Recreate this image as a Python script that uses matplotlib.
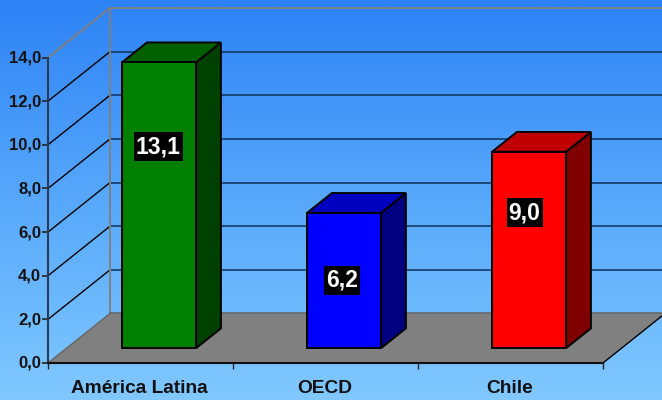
import numpy as np
import matplotlib
matplotlib.use("Agg")
import matplotlib.pyplot as plt
from matplotlib.patches import Polygon, Rectangle
from matplotlib.transforms import ScaledTranslation

categories = ["América Latina", "OECD", "Chile"]
values = [13.1, 6.2, 9.0]
value_labels = ["13,1", "6,2", "9,0"]
y_ticks = [0, 2, 4, 6, 8, 10, 12, 14]
y_tick_labels = ["0,0", "2,0", "4,0", "6,0", "8,0", "10,0", "12,0", "14,0"]

front_colors = ["#008000", "#0000ff", "#ff0000"]
top_colors = ["#006000", "#0000c0", "#c00000"]
side_colors = ["#004000", "#000080", "#800000"]

FIG_W, FIG_H = 662, 400

# oblique depth of the whole plot box, in data units
DEPTH_X = 62 / 185
DEPTH_Y = 49.5 / 21.82
BAR_WIDTH = 0.4
BAR_NEAR, BAR_FAR = 0.3, 0.7


def project(x, y, d):
    return (x + d * DEPTH_X, y + d * DEPTH_Y)


def box_poly(ax, corners, color, z, edge="black", lw=1.4):
    pts = [project(*c) for c in corners]
    ax.add_patch(Polygon(pts, closed=True, facecolor=color, edgecolor=edge,
                         linewidth=lw, joinstyle="miter", clip_on=False, zorder=z))


def main():
    plt.rcParams["font.family"] = ["Liberation Sans", "DejaVu Sans"]
    fig = plt.figure(figsize=(FIG_W / 100, FIG_H / 100), dpi=100)

    # background gradient
    bg = fig.add_axes([0, 0, 1, 1], zorder=0)
    grad = np.linspace(0, 1, 256).reshape(-1, 1)
    cmap = matplotlib.colors.LinearSegmentedColormap.from_list(
        "sky", ["#2d82f5", "#57a8fb", "#80c8ff"])
    bg.imshow(grad, aspect="auto", cmap=cmap, extent=[0, 1, 0, 1], origin="upper")
    bg.axis("off")

    # axes box is the front plane of the 3D box
    left, right, bottom, top = 48, 603, 363, 57.5
    ax = fig.add_axes([left / FIG_W, 1 - bottom / FIG_H,
                       (right - left) / FIG_W, (bottom - top) / FIG_H], zorder=1)
    ax.patch.set_alpha(0)
    ax.set_xlim(0, len(categories))
    ax.set_ylim(0, 14)
    for s in ax.spines.values():
        s.set_visible(False)

    # floor
    floor = [project(0, 0, 0), project(3, 0, 0), project(3, 0, 1), project(0, 0, 1)]
    ax.add_patch(Polygon(floor, closed=True, facecolor="#808080", edgecolor="none",
                         clip_on=False, zorder=1))

    # walls and grid
    for t in y_ticks[1:-1]:
        x0, y0 = project(0, t, 0)
        x1, y1 = project(0, t, 1)
        x2, y2 = project(3, t, 1)
        ax.plot([x0, x1], [y0, y1], color="black", lw=1, clip_on=False, zorder=2)
        ax.plot([x1, x2], [y1, y2], color="#123a66", lw=1.2, clip_on=False, zorder=2)
    x0, y0 = project(0, 14, 0)
    x1, y1 = project(0, 14, 1)
    x2, y2 = project(3, 14, 1)
    xb, yb = project(0, 0, 1)
    ax.plot([x0, x1, x2], [y0, y1, y2], color="#808080", lw=1.4, clip_on=False, zorder=2)
    ax.plot([xb, x1], [yb, y1], color="#808080", lw=1.4, clip_on=False, zorder=2)
    ax.plot(*zip(project(0, 0, 1), project(3, 0, 1)), color="#666666", lw=1.2,
            clip_on=False, zorder=2)
    ax.plot(*zip(project(3, 0, 0), project(3, 0, 1)), color="black", lw=1,
            clip_on=False, zorder=2)
    ax.plot(*zip(project(0, 0, 0), project(0, 0, 1)), color="#666666", lw=1,
            clip_on=False, zorder=2)
    ax.plot([0, 0], [0, 14], color="#2b3a55", lw=1.5, clip_on=False, zorder=3)
    ax.plot([0, 3], [0, 0], color="#111111", lw=1.5, clip_on=False, zorder=3)

    # bars
    label_heights = [9.9, 3.8, 6.88]
    label_shift = [-1, -2.5, -4.5]
    renderer = fig.canvas.get_renderer()
    for i, v in enumerate(values):
        x0 = i + 0.5 - BAR_WIDTH / 2
        x1 = i + 0.5 + BAR_WIDTH / 2
        n, f = BAR_NEAR, BAR_FAR
        box_poly(ax, [(x1, 0, n), (x1, 0, f), (x1, v, f), (x1, v, n)], side_colors[i], 4)
        box_poly(ax, [(x0, v, n), (x1, v, n), (x1, v, f), (x0, v, f)], top_colors[i], 4)
        box_poly(ax, [(x0, 0, n), (x1, 0, n), (x1, v, n), (x0, v, n)], front_colors[i], 5)
        cx = project(i + 0.5, 0, n)[0] + label_shift[i] / 185
        t = ax.text(cx, label_heights[i], value_labels[i], color="white", fontsize=16.5,
                    fontweight="bold", ha="center", va="center", zorder=7)
        # black plate: tight sideways, taller than the text
        ext = t.get_window_extent(renderer)
        cy = ext.y0 + ext.height / 2
        ax.add_patch(Rectangle((ext.x0 - 2, cy - 14.5), ext.width + 4, 29,
                               facecolor="black", edgecolor="none", transform=None,
                               clip_on=False, zorder=6))

    ax.set_yticks(y_ticks)
    ax.set_yticklabels(y_tick_labels, fontsize=12, fontweight="bold", color="#111111")
    ax.set_xticks(range(len(categories) + 1))
    ax.set_xticklabels([])
    ax.tick_params(axis="y", length=4, width=1.2, color="#222222", pad=1)
    ax.tick_params(axis="x", length=4, width=1, color="#222222")
    # tick labels sit one pixel above their ticks
    nudge = ScaledTranslation(0, 1 / 100, fig.dpi_scale_trans)
    for label in ax.get_yticklabels():
        label.set_transform(label.get_transform() + nudge)
    for i, c in enumerate(categories):
        ax.annotate(c, (i + 0.5, 0), xytext=(-1, -30), textcoords="offset pixels",
                    fontsize=13.8, fontweight="bold", color="#111111",
                    ha="center", va="baseline", annotation_clip=False)

    fig.savefig("out.png", dpi=100)


if __name__ == "__main__":
    main()
